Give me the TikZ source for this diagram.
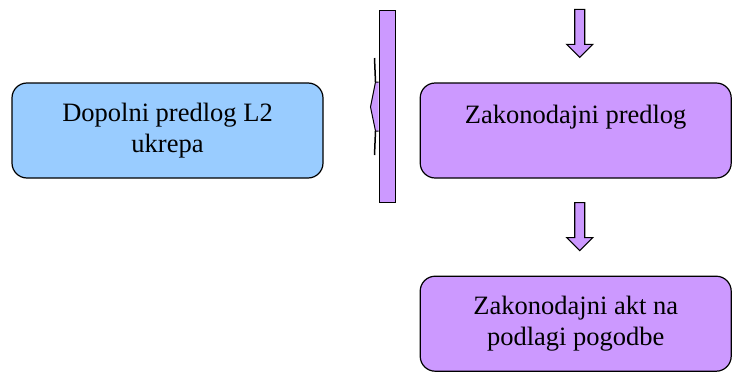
\documentclass[tikz,border=0pt]{standalone}
\usepackage{fontspec}
\setmainfont{Liberation Serif}
\usetikzlibrary{calc, positioning}

\definecolor{boxblue}{HTML}{99CCFF}
\definecolor{boxviolet}{HTML}{CC99FF}

\tikzset{
  stage/.style={draw, line width=1.2pt, rounded corners=15pt, minimum width=311pt,
    minimum height=95pt, align=center, inner sep=2pt,
    font=\fontsize{26.5}{31.5}\selectfont},
  blockarrow/.style={draw, line width=1.1pt, fill=boxviolet, line join=miter}
}

\begin{document}
\begin{tikzpicture}[x=1pt, y=-1pt]
  \useasboundingbox (0,0) rectangle (742,372);
  % Stages
  \node[stage, fill=boxblue] (dopolni) at (167.5,130.5) {Dopolni predlog L2\\ukrepa};
  \node[stage, fill=boxviolet, right=96pt of dopolni] (predlog) {Zakonodajni predlog\\\mbox{}};
  \node[stage, fill=boxviolet, below=97pt of predlog] (akt) {Zakonodajni akt na\\podlagi pogodbe};
  % Block arrows (top centre of each arrow)
  \coordinate (intop) at ($(predlog.north)+(4,-73)$);
  \coordinate (midtop) at ($(predlog.south)+(4,24)$);
  \foreach \a in {intop, midtop}
    \draw[blockarrow] ($(\a)+(-5,0)$) -- ++(10,0) -- ++(0,35) -- ++(8,0) -- ++(-13,13)
      -- ++(-13,-13) -- ++(8,0) -- cycle;
  % Vertical bar with notch
  \node[draw, line width=1pt, fill=boxviolet, minimum width=16pt, minimum height=192pt,
    inner sep=0pt] (bar) at (387,106) {};
  \fill[boxviolet] ($(bar.west)+(0,-24)$) -- ++(-3,0) -- ++(-5,25) -- ++(5,24) -- ++(3,0) -- cycle;
  \draw[line width=1pt] ($(bar.west)+(0,-24)$) -- ++(-3,0) -- ++(-5,25) -- ++(5,24) -- ++(3,0);
  \draw[line width=1.5pt] ($(bar.west)+(-4,-48)$) -- ++(1,24);
  \draw[line width=1.5pt] ($(bar.west)+(-3,25)$) -- ++(-1,24);
\end{tikzpicture}
\end{document}
